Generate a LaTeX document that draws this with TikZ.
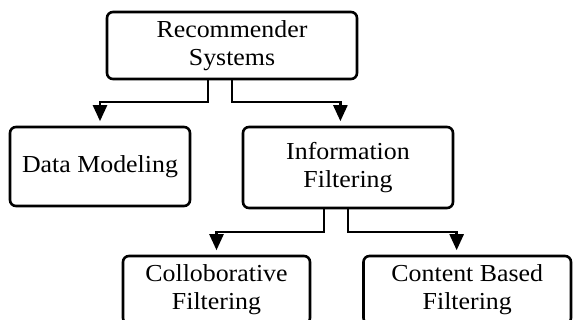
\documentclass[tikz,border=0pt]{standalone}
\usepackage{fontspec}
\setmainfont{Liberation Serif}[FakeStretch=1.06]
\usetikzlibrary{arrows.meta}

\tikzset{
  box/.style={draw=black, line width=2.6pt, rounded corners=6pt, fill=white,
    align=center, inner sep=0pt,
    font=\fontsize{24.4pt}{27.8pt}\selectfont},
  link/.style={draw=black, line width=2.4pt,
    -{Triangle[width=14pt,length=16pt]}, shorten >=4.5pt}
}

\begin{document}
\begin{tikzpicture}[x=1pt,y=-1pt]
  \useasboundingbox (0,0) rectangle (574,320);
  \clip (0,0) rectangle (574,320);

  % boxes
  \node[box, minimum width=250pt, minimum height=67pt] (rs) at (232,45.5)
    {Recommender\\Systems};
  \node[box, minimum width=180pt, minimum height=79pt] (dm) at (100,166.5)
    {Data Modeling};
  \node[box, minimum width=210pt, minimum height=81pt] (if) at (348,167.5)
    {Information\\Filtering};
  \node[box, minimum width=187pt, minimum height=68pt] (cf) at (216.5,290)
    {Colloborative\\Filtering};
  \node[box, minimum width=207.5pt, minimum height=68pt] (cb) at (467.25,290)
    {Content Based\\Filtering};

  % connectors
  \draw[link] ([xshift=-24pt]rs.south) -- ++(0,22) -| (dm.north);
  \draw[link] (rs.south) -- ++(0,22) -| ([xshift=-7.6pt]if.north);
  \draw[link] ([xshift=-24pt]if.south) -- ++(0,22.7) -| (cf.north);
  \draw[link] (if.south) -- ++(0,22.7) -| ([xshift=-10.6pt]cb.north);
\end{tikzpicture}
\end{document}
